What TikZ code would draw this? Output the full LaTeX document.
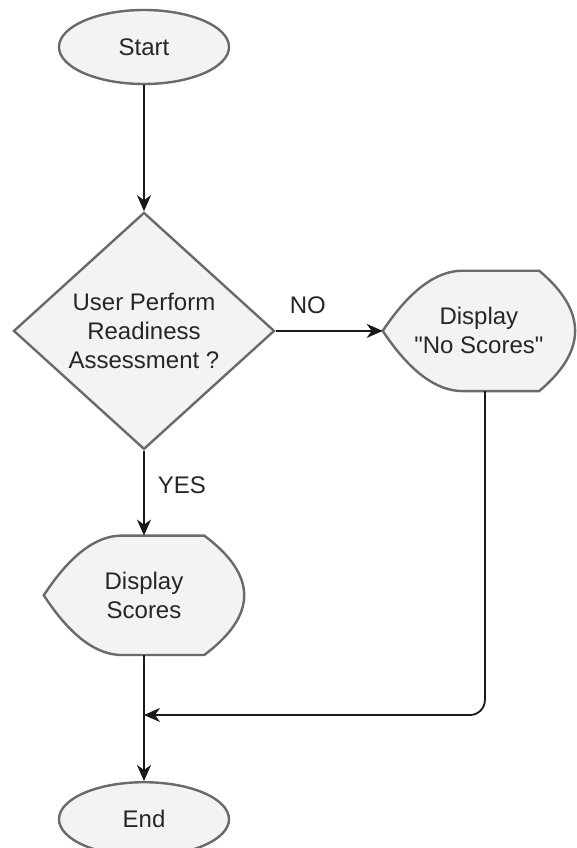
\documentclass[tikz,border=0pt]{standalone}
\usepackage{fontspec}
\setmainfont{Liberation Sans}[Ligatures=TeXOff]
\usepackage{tikz}
\usetikzlibrary{arrows.meta,shapes.geometric,positioning,backgrounds,calc}
\definecolor{shapefill}{HTML}{F3F3F3}
\definecolor{shapeline}{HTML}{6A6A6A}
\definecolor{inktext}{HTML}{262626}
\tikzset{
    terminal/.style={ellipse, minimum width=170pt, minimum height=74pt, inner sep=0pt,
        draw=shapeline, line width=2.4pt, fill=shapefill},
    decision/.style={diamond, minimum width=261pt, minimum height=237pt, inner sep=0pt,
        align=center, draw=shapeline, line width=2.4pt, fill=shapefill},
    display/.style={rectangle, minimum width=200pt, minimum height=119pt, inner sep=0pt,
        align=center},
    displine/.style={draw=shapeline, line width=2.4pt, fill=shapefill},
    arrow/.style={-{Stealth[length=16pt, width=14pt, inset=5pt]}, line width=1.8pt,
        draw=black!90},
    tag/.style={inner sep=0pt}
}

\begin{document}
\begin{tikzpicture}[x=1pt, y=-1pt,
    every node/.style={font=\fontsize{24pt}{29pt}\selectfont, text=inktext}]
    \useasboundingbox (0,0) rectangle (576,848);
    \node[terminal] (start) at (144,47) {Start};
    \node[decision, below=126pt of start] (check) {User Perform\\Readiness\\Assessment ?};
    \node[display, below=85pt of check] (scores) {Display\\Scores};
    \node[display, minimum width=192pt, minimum height=120pt, right=107pt of check]
        (noscores) {Display\\"No Scores"};
    \node[terminal, below=126pt of scores] (stop) {End};
    \coordinate[below=60pt of scores] (join);
    % display outlines behind the text
    \begin{scope}[on background layer]
        \foreach \d/\l/\r in {scores/78/40, noscores/80/36} {
            \draw[displine] (\d.west)
                .. controls ([xshift=\l/3]$(\d.north west)!1/3!(\d.west)$)
                and ([xshift=2*\l/3]\d.north west) .. ([xshift=\l]\d.north west)
                -- ([xshift=-\r]\d.north east)
                .. controls ([xshift=\r/3]$(\d.north east)!1/3!(\d.south east)$)
                and ([xshift=\r/3]$(\d.north east)!2/3!(\d.south east)$)
                .. ([xshift=-\r]\d.south east)
                -- ([xshift=\l]\d.south west)
                .. controls ([xshift=2*\l/3]\d.south west)
                and ([xshift=\l/3]$(\d.south west)!1/3!(\d.west)$) .. (\d.west) -- cycle;
        }
    \end{scope}
    \path (start) edge [arrow] (check)
        (check) edge [arrow] node[tag, pos=0.3, above=16pt] {NO} (noscores)
        (check) edge [arrow] node[tag, pos=0.41, right=13pt] {YES} (scores)
        (scores) edge [arrow] (stop);
    \draw[arrow, rounded corners=15pt] ([xshift=6pt]noscores.south) |- (join);
\end{tikzpicture}
\end{document}
